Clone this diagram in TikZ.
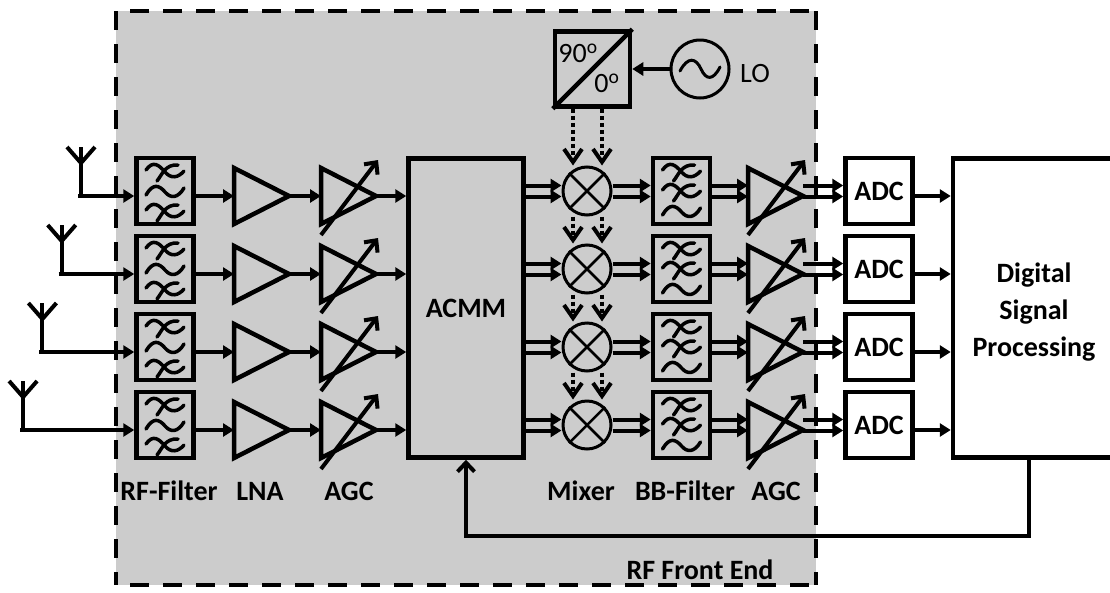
\documentclass[tikz,border=0pt]{standalone}
\usepackage{fontspec}
\setmainfont{Carlito}
\usetikzlibrary{arrows.meta,shapes.geometric}
\tikzset{
  sig/.style={line width=4pt},
  feed/.style={sig,-{Triangle[length=11pt,width=13pt]}},
  barb/.style={sig,-{Straight Barb[length=9pt,width=17pt]}},
  lodash/.style={sig,dash pattern=on 4pt off 3pt,-{Straight Barb[length=13pt,width=18pt]}},
  frame/.style={line width=4.5pt,dash pattern=on 19pt off 14pt},
  blockbox/.style={draw,line width=4.5pt,inner sep=0pt,minimum width=57pt,minimum height=66pt},
  ampbox/.style={draw,line width=4.5pt,inner sep=0pt,outer sep=0pt,isosceles triangle,
    isosceles triangle stretches,minimum width=56pt,minimum height=55pt,anchor=lower side},
  mixbox/.style={draw,circle,line width=3pt,inner sep=0pt,minimum size=48pt},
  lbl/.style={font=\fontsize{28}{28}\selectfont\bfseries,inner sep=0pt},
  thin lbl/.style={font=\fontsize{28}{28}\selectfont,inner sep=0pt},
  wave/.pic={\draw[line width=3.5pt,line cap=round] (-19,3) .. controls (-12,-9) and (-6,-7) .. (0,0) .. controls (6,7) and (13,6) .. (19,-4);},
  crosswave/.pic={\draw[line width=3.5pt,line cap=round] (-19,-2) .. controls (-12,-12) and (-6,-7) .. (0,0) .. controls (6,7) and (13,6) .. (19,-1);
    \draw[line width=3.5pt,line cap=round] (-8,9) .. controls (-3,3) and (0,-8) .. (13,-7);}
}
\begin{document}
\begin{tikzpicture}[x=1pt,y=-1pt]
  \useasboundingbox (0,0) rectangle (1110,592);
  \clip (0,0) rectangle (1110,592);

  % front end area
  \fill[black!20] (116,11) rectangle (816,585);
  \draw[frame] (116,11) -- (116,585) (816,11) -- (816,585);
  \draw[frame,dash phase=19pt] (116,11) -- (816,11) (116,585) -- (816,585);

  \node[draw,line width=4.5pt,inner sep=0pt,minimum width=115pt,minimum height=299pt,lbl] (acmm) at (466,308) {ACMM};
  \node[draw,line width=4.5pt,inner sep=0pt,minimum width=162pt,minimum height=299pt,fill=white] (dsp) at (1034,308) {};
  \node[lbl,align=center] (dsptxt) at (1034,312) {Digital\\[9pt]Signal\\[9pt]Processing};
  \node[draw,line width=4.5pt,inner sep=0pt,minimum size=75pt] (phase) at (592.5,69) {};
  \draw[line width=4.5pt] (phase.south west) -- (phase.north east);
  \node[thin lbl] (deg90) at (578,53) {90\textsuperscript{o}};
  \node[thin lbl] (deg0) at (607,83) {0\textsuperscript{o}};
  \node[draw,circle,line width=3pt,inner sep=0pt,minimum size=58pt] (lo) at (700,69) {};
  \draw[line width=3pt,line cap=round] (680,71) .. controls (688,56) and (696,58) .. (701,69) .. controls (706,80) and (713,81) .. (720,67);
  \node[thin lbl] (lolbl) at (755,74) {LO};
  \draw[feed] (lo.west) -- (phase.east);

  \foreach \n in {1,...,4} {
      \pgfmathsetmacro\boxy{191+78*(\n-1)}
      \pgfmathsetmacro\ampy{196+78*(\n-1)}
      \pgfmathsetmacro\antx{81-19.3*(\n-1)}
      \node[blockbox] (rf\n) at (165,\boxy) {};
      \node[ampbox] (lna\n) at (234,\ampy) {};
      \node[ampbox] (agc\n) at (321,\ampy) {};
      \node[mixbox] (mix\n) at (587,\boxy) {};
      \node[blockbox] (bb\n) at (681.5,\boxy) {};
      \node[ampbox] (vga\n) at (748,\ampy) {};
      \node[blockbox,fill=white,minimum width=67pt,lbl] (adc\n) at (879,\boxy) {ADC};

      % antenna
      \coordinate (ant\n) at (\antx,\ampy);
      \coordinate (top\n) at (\antx,\ampy-49);
      \coordinate (fork\n) at (\antx,\ampy-33);
      \draw[sig] (top\n) -- (ant\n);
      \draw[sig] ([xshift=-14pt]top\n) -- (fork\n) -- ([xshift=14pt]top\n);
      \draw[feed] ([xshift=-3pt]ant\n) -- (rf\n.west |- ant\n);

      \draw[feed] (rf\n.east |- lna\n.lower side) -- (lna\n.lower side);
      \draw[feed] (lna\n.apex) -- (agc\n.lower side);
      \draw[feed] (agc\n.apex) -- (acmm.west |- agc\n.apex);
      \draw[feed] (adc\n.east |- vga\n.lower side) -- (dsp.west |- vga\n.lower side);

      % two rails
      \foreach \d in {-5.5,5.5} {
          \draw[feed] ([yshift=\d pt]acmm.east |- mix\n) -- ([yshift=\d pt]mix\n.west);
          \draw[feed] ([yshift=\d pt]mix\n.east) -- ([yshift=\d pt]bb\n.west);
          \draw[feed] ([yshift=\d pt]bb\n.east) -- ([yshift=\d pt]bb\n.east -| vga\n.lower side);
          \draw[feed] ([yshift=\d pt]vga\n.apex |- mix\n) -- ([yshift=\d pt]adc\n.west);
        }

      \foreach \a in {agc,vga} {
          \draw[barb] ([shift={(0,39)}]\a\n.lower side) -- ([shift={(57,-36)}]\a\n.lower side);
        }
      \draw[line width=2.5pt] (mix\n.north west) -- (mix\n.south east) (mix\n.north east) -- (mix\n.south west);

      \coordinate (lodi\n) at ([xshift=-14pt]mix\n.north);
      \coordinate (lodq\n) at ([xshift=15pt]mix\n.north);

      % filter curves
      \pic at ([yshift=19pt]rf\n.center) {crosswave};
      \pic at ([yshift=-1pt]rf\n.center) {wave};
      \pic at ([yshift=-21pt]rf\n.center) {crosswave};
      \pic at ([yshift=19pt]bb\n.center) {crosswave};
      \pic at ([yshift=-1pt]bb\n.center) {crosswave};
      \pic at ([yshift=-21pt]bb\n.center) {wave};
    }

  % local oscillator paths
  \draw[lodash] (lodi1 |- phase.south) -- (lodi1);
  \draw[lodash] (lodq1 |- phase.south) -- (lodq1);
  \foreach \m/\n in {1/2,2/3,3/4} {
      \draw[lodash] (lodi\n |- mix\m.south) -- (lodi\n);
      \draw[lodash] (lodq\n |- mix\m.south) -- (lodq\n);
    }

  % feedback
  \coordinate (fbk) at (1029,536);
  \draw[barb] (dsp.south -| fbk) -- (fbk) -- (acmm.south |- fbk) -- (acmm.south);

  \foreach \x/\name/\txt in {169/rflbl/RF-Filter,260/lnalbl/LNA,349/agclbl/AGC,581/mixlbl/Mixer,685/bblbl/BB-Filter,776/vgalbl/AGC} {
      \node[lbl] (\name) at (\x,491) {\txt};
    }
  \node[lbl] (felbl) at (700,570) {RF Front End};
\end{tikzpicture}
\end{document}
